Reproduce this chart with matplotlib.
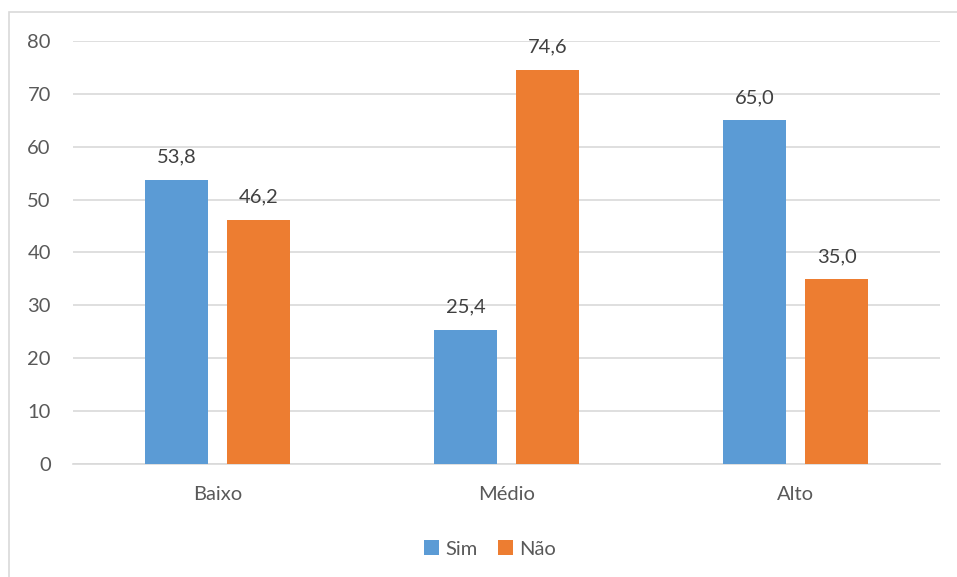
"""
Grouped bar chart: Sim / Não by level
"""
import matplotlib.pyplot as plt
from matplotlib.patches import Rectangle
import numpy as np

categories = ['Baixo', 'Médio', 'Alto']
sim_values = [53.8, 25.4, 65.0]
nao_values = [46.2, 74.6, 35.0]
series_names = ['Sim', 'Não']
y_ticks = [0, 10, 20, 30, 40, 50, 60, 70, 80]

BLUE = '#5B9BD5'
ORANGE = '#ED7D31'
TEXT = '#595959'
GRID = '#D9D9D9'
FS = 14.5

plt.rcParams['font.family'] = ['Lato', 'DejaVu Sans']

W, H = 957, 577
fig = plt.figure(figsize=(W / 100, H / 100), dpi=100)
fig.patch.set_facecolor('white')

# chart border (Excel style)
fig.add_artist(Rectangle((9 / W, -0.1), 1.1, 1 - 12 / H + 0.1, transform=fig.transFigure,
                         fill=False, edgecolor=GRID, linewidth=1.2))

ax = fig.add_axes([73 / W, 1 - 464 / H, (940 - 73) / W, (464 - 41) / H])

x = np.arange(len(categories))
width = 0.221
offset = 0.142
bars_sim = ax.bar(x - offset, sim_values, width, color=BLUE, label=series_names[0], zorder=3)
bars_nao = ax.bar(x + offset, nao_values, width, color=ORANGE, label=series_names[1], zorder=3)

for bars in (bars_sim, bars_nao):
    for b in bars:
        h = b.get_height()
        ax.annotate(f"{h:.1f}".replace('.', ','), (b.get_x() + b.get_width() / 2, h),
                    xytext=(0, 10), textcoords='offset points', ha='center', va='bottom',
                    fontsize=FS, color='#404040')

ax.set_xlim(-0.5, len(categories) - 0.5)
ax.set_ylim(0, 80)
ax.set_yticks(y_ticks)
ax.set_yticklabels([str(t) for t in y_ticks])
ax.set_xticks(x)
ax.set_xticklabels(categories)
ax.tick_params(axis='both', length=0, labelsize=FS, colors=TEXT)
ax.tick_params(axis='y', pad=16)
ax.tick_params(axis='x', pad=16)
ax.grid(axis='y', color=GRID, linewidth=1.2, zorder=0)
for side in ['top', 'right', 'left']:
    ax.spines[side].set_visible(False)
ax.spines['bottom'].set_color(GRID)
ax.spines['bottom'].set_linewidth(1.2)

leg = fig.legend(loc='center', bbox_to_anchor=(490 / W, 1 - 549 / H), ncol=2, frameon=False,
                 fontsize=FS, handlelength=0.75, handleheight=0.75, handletextpad=0.3,
                 columnspacing=1.0)
for t in leg.get_texts():
    t.set_color(TEXT)

plt.savefig('out.png', dpi=100, facecolor='white')
plt.close()
